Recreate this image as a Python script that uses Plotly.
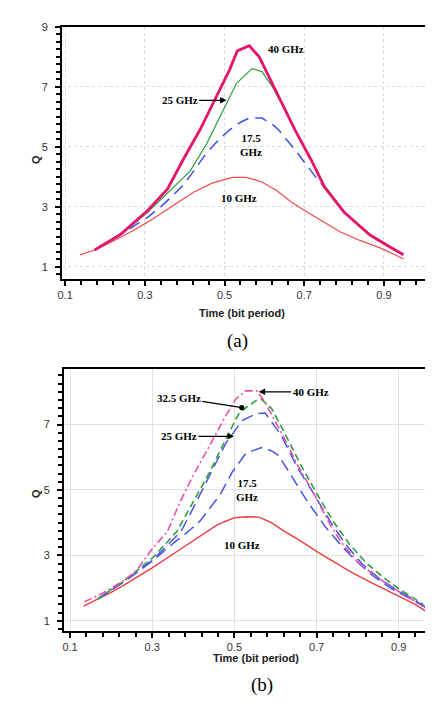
import plotly.graph_objects as go

# ---------- Panel (a) data ----------
a_x_10 = [0.137, 0.174, 0.22, 0.27, 0.307, 0.36, 0.421, 0.47, 0.52, 0.554, 0.59, 0.63, 0.668, 0.71, 0.75, 0.791, 0.84, 0.89, 0.925, 0.949]
a_q_10 = [1.4, 1.56, 1.85, 2.2, 2.49, 2.95, 3.48, 3.8, 3.98, 3.98, 3.85, 3.55, 3.15, 2.8, 2.48, 2.16, 1.88, 1.63, 1.42, 1.26]

a_x_175 = [0.22, 0.26, 0.307, 0.34, 0.372, 0.395, 0.42, 0.455, 0.49, 0.512, 0.54, 0.562, 0.594, 0.62, 0.636, 0.677, 0.726, 0.76, 0.8, 0.865, 0.915, 0.953]
a_q_175 = [1.95, 2.25, 2.65, 3.0, 3.4, 3.7, 4.15, 4.8, 5.3, 5.56, 5.82, 5.96, 5.96, 5.75, 5.56, 4.9, 4.04, 3.5, 2.82, 2.06, 1.66, 1.37]

a_x_25 = [0.174, 0.24, 0.307, 0.36, 0.414, 0.455, 0.505, 0.53, 0.569, 0.594, 0.62, 0.643, 0.677, 0.717, 0.751, 0.8, 0.865, 0.915, 0.935]
a_q_25 = [1.56, 2.07, 2.82, 3.5, 4.2, 5.1, 6.45, 7.12, 7.61, 7.51, 7.0, 6.45, 5.56, 4.6, 3.72, 2.85, 2.08, 1.68, 1.5]

a_x_40 = [0.174, 0.24, 0.307, 0.357, 0.396, 0.438, 0.48, 0.512, 0.532, 0.562, 0.587, 0.611, 0.643, 0.677, 0.717, 0.751, 0.8, 0.865, 0.915, 0.949]
a_q_40 = [1.56, 2.09, 2.88, 3.6, 4.57, 5.56, 6.69, 7.55, 8.2, 8.37, 8.0, 7.35, 6.45, 5.56, 4.57, 3.65, 2.82, 2.06, 1.66, 1.4]

# ---------- Panel (b) data ----------
b_x_10 = [0.133, 0.17, 0.2, 0.23, 0.27, 0.3, 0.34, 0.38, 0.42, 0.46, 0.5, 0.53, 0.56, 0.59, 0.62, 0.66, 0.7, 0.74, 0.78, 0.82, 0.86, 0.9, 0.94, 0.965]
b_q_10 = [1.45, 1.68, 1.87, 2.08, 2.38, 2.62, 2.95, 3.28, 3.6, 3.95, 4.15, 4.18, 4.17, 4.0, 3.75, 3.45, 3.12, 2.82, 2.52, 2.25, 2.0, 1.75, 1.5, 1.3]

b_x_175 = [0.168, 0.24, 0.303, 0.344, 0.38, 0.415, 0.465, 0.495, 0.528, 0.566, 0.59, 0.607, 0.638, 0.678, 0.72, 0.76, 0.8, 0.84, 0.88, 0.92, 0.965]
b_q_175 = [1.67, 2.27, 2.85, 3.3, 3.65, 4.03, 4.85, 5.55, 6.12, 6.3, 6.2, 6.06, 5.45, 4.64, 3.9, 3.3, 2.78, 2.35, 2.0, 1.72, 1.42]

b_x_25 = [0.168, 0.24, 0.303, 0.344, 0.37, 0.4, 0.44, 0.48, 0.519, 0.552, 0.575, 0.614, 0.654, 0.695, 0.735, 0.77, 0.81, 0.85, 0.89, 0.93, 0.965]
b_q_25 = [1.67, 2.27, 2.88, 3.4, 3.73, 4.45, 5.45, 6.45, 7.12, 7.33, 7.35, 6.67, 5.67, 4.85, 4.0, 3.35, 2.75, 2.32, 1.98, 1.7, 1.42]

b_x_325 = [0.168, 0.24, 0.303, 0.36, 0.4, 0.44, 0.48, 0.512, 0.552, 0.565, 0.59, 0.62, 0.66, 0.7, 0.74, 0.78, 0.82, 0.86, 0.9, 0.94, 0.96]
b_q_325 = [1.67, 2.3, 2.95, 3.73, 4.64, 5.55, 6.58, 7.36, 7.73, 7.78, 7.5, 6.8, 5.8, 4.9, 4.05, 3.35, 2.78, 2.35, 1.98, 1.65, 1.5]

b_x_40 = [0.135, 0.18, 0.22, 0.26, 0.3, 0.337, 0.368, 0.4, 0.44, 0.475, 0.504, 0.528, 0.555, 0.575, 0.614, 0.654, 0.695, 0.733, 0.76, 0.8, 0.84, 0.88, 0.92, 0.957]
b_q_40 = [1.58, 1.85, 2.15, 2.5, 3.2, 3.73, 4.64, 5.45, 6.36, 7.18, 7.79, 8.03, 8.03, 7.67, 6.76, 5.76, 4.85, 3.94, 3.4, 2.8, 2.4, 2.05, 1.75, 1.45]

x_tick0, x_dtick = 0.1, 0.2
y_tick0, y_dtick = 1, 2

W, H = 433, 704
fig = go.Figure()

def add(x, y, color, width, dash, xa, ya):
    fig.add_trace(go.Scatter(x=x, y=y, mode="lines", xaxis=xa, yaxis=ya,
                             line=dict(color=color, width=width, dash=dash),
                             showlegend=False, hoverinfo="skip"))

# panel (a)
add(a_x_10, a_q_10, "#f24a4a", 1.2, "solid", "x", "y")
add(a_x_175, a_q_175, "#3d4fe6", 1.5, "12px,7px", "x", "y")
add(a_x_25, a_q_25, "#2fa23a", 1.2, "solid", "x", "y")
add(a_x_40, a_q_40, "#e8146c", 2.8, "solid", "x", "y")

# panel (b)
add(b_x_10, b_q_10, "#f03c3c", 1.4, "solid", "x2", "y2")
add(b_x_175, b_q_175, "#4a55e6", 1.5, "12px,6px", "x2", "y2")
add(b_x_25, b_q_25, "#4a55e6", 1.5, "12px,6px", "x2", "y2")
add(b_x_325, b_q_325, "#2e9e3e", 1.6, "7px,4px", "x2", "y2")
add(b_x_40, b_q_40, "#ec4fa8", 1.6, "8px,3px,2px,3px", "x2", "y2")

tickfont = dict(family="Liberation Sans, Arial", size=11, color="#333333")

def xaxis(domain, rng, griddash, gridcolor, anchor):
    return dict(domain=domain, range=rng, anchor=anchor, tickmode="linear", tick0=x_tick0, dtick=x_dtick,
                tickformat=".1f",
                showline=True, linecolor="black", linewidth=2, mirror=True,
                ticks="outside", ticklen=5, tickwidth=1.6, tickcolor="black",
                minor=dict(ticks="outside", ticklen=4, tickmode="linear", dtick=0.04, tick0=0.1,
                           tickcolor="black", tickwidth=1.5, showgrid=False),
                showgrid=True, gridcolor=gridcolor, griddash=griddash, gridwidth=1,
                zeroline=False, tickfont=tickfont, fixedrange=True)

def yaxis(domain, rng, griddash, gridcolor, anchor):
    return dict(domain=domain, range=rng, anchor=anchor, tickmode="linear", tick0=y_tick0, dtick=y_dtick,
                showline=True, linecolor="black", linewidth=2, mirror=True,
                ticks="outside", ticklen=5, tickwidth=1.6, tickcolor="black",
                minor=dict(ticks="outside", ticklen=4, tickmode="linear", dtick=0.25, tick0=1,
                           tickcolor="black", tickwidth=1.5, showgrid=False),
                showgrid=True, gridcolor=gridcolor, griddash=griddash, gridwidth=1,
                zeroline=False, tickfont=tickfont, ticklabelstandoff=5, fixedrange=True)

fig.update_layout(
    width=W, height=H,
    margin=dict(l=0, r=0, t=0, b=0),
    paper_bgcolor="white", plot_bgcolor="white",
    xaxis=xaxis([50 / W, 420 / W], [0.0926, 1.006], "dot", "#d9d9d9", "y"),
    yaxis=yaxis([(H - 267) / H, (H - 13) / H], [0.603, 9.0], "dot", "#d9d9d9", "x"),
    xaxis2=xaxis([52 / W, 1.0], [0.0857, 0.998], "solid", "#e0e0e0", "y2"),
    yaxis2=yaxis([(H - 622) / H, (H - 358) / H], [0.697, 8.70], "solid", "#e0e0e0", "x2"),
)

lab = dict(family="Liberation Serif, Times New Roman", size=11, color="black")
anns = []

def txt(x, y, s, xref, yref, font=lab, **kw):
    anns.append(dict(x=x, y=y, xref=xref, yref=yref, text=s, showarrow=False, font=font, **kw))

def arrow(x, y, s, xref, yref, ax, ay, head=2):
    anns.append(dict(x=x, y=y, xref=xref, yref=yref, text=s, showarrow=True, arrowhead=head,
                     arrowsize=1, arrowwidth=1.3, arrowcolor="black", ax=ax, ay=ay, font=lab))

# panel (a) labels
txt(0.653, 8.27, "<b>40 GHz</b>", "x", "y")
arrow(0.505, 6.55, "<b>25 GHz</b>", "x", "y", -47, 0)
txt(0.567, 5.07, "<b>17.5<br>GHz</b>", "x", "y")
txt(0.537, 3.31, "<b>10 GHz</b>", "x", "y")

# panel (b) labels
arrow(0.559, 8.0, "<b>40 GHz</b>", "x2", "y2", 52, 0)
arrow(0.518, 7.52, "<b>32.5 GHz</b>", "x2", "y2", -63, -10, head=6)
arrow(0.499, 6.64, "<b>25 GHz</b>", "x2", "y2", -55, 0)
txt(0.530, 5.0, "<b>17.5<br>GHz</b>", "x2", "y2")
txt(0.518, 3.33, "<b>10 GHz</b>", "x2", "y2")

# axis titles & panel captions
axt = dict(family="Liberation Sans, Arial", size=11, color="#222222")
cap = dict(family="Liberation Serif, Times New Roman", size=19, color="black")
txt(16 / W, (H - 140) / H, "<b>Q</b>", "paper", "paper", font=axt, textangle=-90)
txt(16 / W, (H - 490) / H, "<b>Q</b>", "paper", "paper", font=axt, textangle=-90)
txt(233 / W, (H - 302) / H, "<b>Time (bit period)</b>", "paper", "paper", font=axt)
txt(247 / W, (H - 658) / H, "<b>Time (bit period)</b>", "paper", "paper", font=axt)
txt(228 / W, (H - 330) / H, "(a)", "paper", "paper", font=cap)
txt(253 / W, (H - 690) / H, "(b)", "paper", "paper", font=cap)

fig.update_layout(annotations=anns)
fig.write_html("out.html")
